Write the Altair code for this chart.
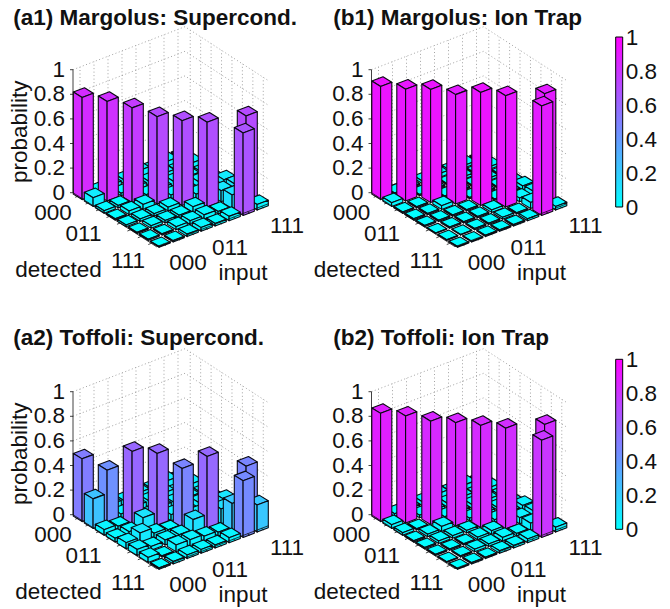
import altair as alt

FONT = "Liberation Sans"
TICKS = ["000", "011", "111"]
Z_TICKS = [0, 0.2, 0.4, 0.6, 0.8, 1]

# probabilities; rows = detected, columns = input
A1 = [
    [.83, .02, .03, .03, .06, .03, .05, .04],
    [.07, .81, .02, .03, .03, .05, .03, .05],
    [.02, .02, .77, .02, .03, .04, .04, .03],
    [.01, .03, .04, .71, .03, .03, .05, .03],
    [.015, .02, .02, .03, .69, .05, .06, .08],
    [.01, .02, .02, .02, .045, .69, .09, .10],
    [.01, .01, .025, .03, .035, .02, .11, .71],
    [.005, .01, .02, .03, .02, .035, .67, .045],
]
B1 = [
    [.92, .01, .01, .02, .03, .02, .02, .01],
    [.03, .91, .01, .01, .01, .02, .01, .02],
    [.01, .01, .92, .01, .01, .01, .02, .01],
    [.01, .01, .03, .89, .01, .01, .01, .01],
    [.01, .01, .01, .01, .92, .01, .02, .03],
    [.005, .01, .01, .01, .02, .905, .03, .04],
    [.005, .005, .01, .01, .015, .01, .05, .89],
    [.005, .005, .01, .01, .01, .015, .89, .03],
]
A2 = [
    [.51, .04, .05, .04, .06, .05, .07, .05],
    [.24, .43, .03, .05, .05, .07, .04, .06],
    [.045, .03, .595, .03, .06, .05, .05, .04],
    [.03, .04, .11, .59, .05, .04, .06, .05],
    [.05, .085, .04, .025, .48, .06, .05, .10],
    [.05, .03, .04, .04, .12, .59, .12, .07],
    [.04, .01, .055, .055, .04, .03, .22, .48],
    [.01, .02, .03, .03, .025, .04, .46, .22],
]
B2 = [
    [.88, .02, .02, .03, .05, .03, .04, .02],
    [.03, .87, .02, .02, .03, .04, .02, .03],
    [.02, .01, .84, .02, .02, .03, .03, .02],
    [.01, .02, .04, .84, .02, .02, .02, .02],
    [.01, .02, .02, .02, .83, .02, .04, .05],
    [.01, .01, .01, .02, .03, .82, .05, .06],
    [.005, .01, .02, .02, .03, .02, .06, .82],
    [.005, .01, .01, .02, .02, .03, .79, .04],
]
PANELS = [
    ("(a1) Margolus: Supercond.", A1, 0, 0, True),
    ("(b1) Margolus: Ion Trap", B1, 298.5, 0, False),
    ("(a2) Toffoli: Supercond.", A2, 0, 322, True),
    ("(b2) Toffoli: Ion Trap", B2, 298.5, 322, False),
]

# oblique view of the box (page pixels of panel a1, minus the 8px page margin)
ZPX = 123
BAR = (70.8 - 8, 194 - 8)
BD, BI = (11, 6.8), (14, -5.3)
BOX = (73 - 8, 192.7 - 8)
DV, IV = (83.5, 54), (112, -43)
CBAR_X, CBAR_LEN = 615.7 - 8, 170
CBAR_TOPS = [37 - 8, 359.3 - 8]


def bar_pt(d, i, z, ox, oy):
    return [BAR[0] + BD[0] * d + BI[0] * i + ox, BAR[1] + BD[1] * d + BI[1] * i - z * ZPX + oy]


def box_pt(u, v, z, ox, oy):
    return [BOX[0] + DV[0] * u + IV[0] * v + ox, BOX[1] + DV[1] * u + IV[1] * v - z * ZPX + oy]


def poly(pts, value):
    return {"type": "Feature", "properties": {"value": value},
            "geometry": {"type": "Polygon", "coordinates": [pts + [pts[0]]]}}


def seg(pts):
    return {"type": "Feature", "properties": {},
            "geometry": {"type": "LineString", "coordinates": pts}}


def bar_faces(m, ox, oy):
    out = []
    cells = sorted(((d, i) for d in range(8) for i in range(8)), key=lambda c: (c[0] - c[1], c[0]))
    for d, i in cells:
        v = m[d][i]
        d0, d1, i0, i1 = d + .1, d + .9, i + .1, i + .9
        P = lambda a, b, z: bar_pt(a, b, z, ox, oy)
        out.append(poly([P(d0, i0, v), P(d1, i0, v), P(d1, i1, v), P(d0, i1, v)], v))
        out.append(poly([P(d0, i0, 0), P(d1, i0, 0), P(d1, i0, v), P(d0, i0, v)], v))
        out.append(poly([P(d1, i0, 0), P(d1, i1, 0), P(d1, i1, v), P(d1, i0, v)], v))
    return out


grid, axes, labels, titles, cbar = [], [], [], [], []
for title, m, ox, oy, first in PANELS:
    B = lambda u, v, z: box_pt(u, v, z, ox, oy)
    for z in Z_TICKS:
        grid.append(seg([B(0, 0, z), B(0, 1, z), B(1, 1, z)]))
        axes.append(seg([[B(0, 0, z)[0] - 3, B(0, 0, z)[1]], B(0, 0, z)]))
        labels.append({"t": str(z), "x": B(0, 0, z)[0] - 8, "y": B(0, 0, z)[1], "a": "right", "r": 0})
    for k in range(8):
        t = (k + .5) / 8
        grid.append(seg([B(t, 0, 0), B(t, 1, 0)]))
        grid.append(seg([B(0, t, 0), B(1, t, 0)]))
        grid.append(seg([B(0, t, 0), B(0, t, 1)]))
        grid.append(seg([B(t, 1, 0), B(t, 1, 1)]))
        p = B(t, 0, 0)
        axes.append(seg([p, [p[0] - 3, p[1] + 1.2]]))
        p = B(1, t, 0)
        axes.append(seg([p, [p[0] + 2.4, p[1] + 1.6]]))
    axes.append(seg([B(0, 0, 0), B(0, 0, 1)]))
    axes.append(seg([B(0, 0, 0), B(1, 0, 0), B(1, 1, 0)]))
    X0, Y0 = ox - 8, oy - 8
    for t, x, y in [(TICKS[0], 53, 213), (TICKS[1], 83.5, 233.5), (TICKS[2], 128, 260.7),
                    ("detected", 58.5, 269.5), (TICKS[0], 188, 263), (TICKS[1], 230, 248),
                    (TICKS[2], 287, 226), ("input", 243, 272.7)]:
        labels.append({"t": t, "x": x + X0, "y": y + Y0, "a": "center", "r": 0})
    if first:
        labels.append({"t": "probability", "x": 20 + X0, "y": 131.7 + Y0, "a": "center", "r": 270})
    tx = 13.3 - 8 if first else 333.3 - 8
    titles.append({"t": title, "x": tx, "y": 16.5 + oy - (1.5 if oy else 0)})
for top_y in CBAR_TOPS:
    for v in Z_TICKS:
        cbar.append({"t": str(v), "x": CBAR_X + 10, "y": top_y + CBAR_LEN * (1 - v) + 1})

proj = dict(type="identity", scale=1, translate=[0, 0])


def geo(values):
    return alt.Data(values=values)


grid_layer = alt.Chart(geo(grid)).mark_geoshape(
    filled=False, stroke="#8c8c8c", strokeWidth=0.8, strokeDash=[1, 2.5]).project(**proj)
axis_layer = alt.Chart(geo(axes)).mark_geoshape(
    filled=False, stroke="#111111", strokeWidth=0.8).project(**proj)


def bars(values, legend_y):
    return alt.Chart(geo(values)).mark_geoshape(
        stroke="#0a0a12", strokeWidth=1.1, strokeJoin="round").encode(
        color=alt.Color("properties.value:Q",
                        scale=alt.Scale(domain=[0, 1], range=["#00ffff", "#ff00ff"],
                                        interpolate="rgb", clamp=True),
                        legend=alt.Legend(orient="none", legendX=CBAR_X, legendY=legend_y,
                                          gradientLength=CBAR_LEN, gradientThickness=7, title=None,
                                          direction="vertical", type="gradient",
                                          gradientStrokeColor="black", gradientStrokeWidth=1,
                                          labelExpr="''", labelOpacity=0, values=Z_TICKS))
    ).project(**proj)


top = bar_faces(A1, 0, 0) + bar_faces(B1, 298.5, 0)
bottom = bar_faces(A2, 0, 322) + bar_faces(B2, 298.5, 322)

plain = [r for r in labels if r["r"] == 0 and r["a"] == "center"]
right = [r for r in labels if r["a"] == "right"]
rot = [r for r in labels if r["r"] == 270]


def text(rows, **kw):
    return alt.Chart(alt.Data(values=rows)).mark_text(
        font=FONT, fontSize=22.5, color="#111111", baseline="middle", **kw).encode(
        longitude="x:Q", latitude="y:Q", text="t:N").project(**proj)


title_layer = alt.Chart(alt.Data(values=titles)).mark_text(
    font=FONT, fontSize=22.5, fontWeight="bold", color="#111111", align="left", baseline="alphabetic"
).encode(longitude="x:Q", latitude="y:Q", text="t:N").project(**proj)

chart = alt.layer(
    grid_layer, bars(top, CBAR_TOPS[0]), bars(bottom, CBAR_TOPS[1]), axis_layer,
    text(plain, align="center"), text(right, align="right"),
    text(rot, align="center", angle=270), text(cbar, align="left"), title_layer,
).resolve_scale(color="independent").properties(
    width=654, height=600, padding=0, autosize=alt.AutoSizeParams(type="none"),
).configure_view(stroke=None)

chart.save("out.html", embed_options={"renderer": "svg", "actions": False})
